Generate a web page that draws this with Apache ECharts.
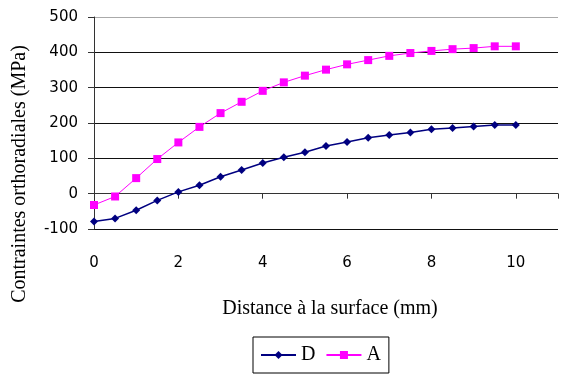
<!DOCTYPE html>
<html>
<head>
<meta charset="utf-8">
<script src="https://cdn.jsdelivr.net/npm/echarts@6/dist/echarts.min.js"></script>
<style>html,body{margin:0;padding:0;background:#fff;}#c{width:561px;height:374px;}</style>
</head>
<body>
<div id="c"></div>
<script>
const distances = [0,0.5,1,1.5,2,2.5,3,3.5,4,4.5,5,5.5,6,6.5,7,7.5,8,8.5,9,9.5,10];
const seriesD = [-79,-70,-47,-19,5,24,48,67,87,103,117,135,146,158,166,173,182,186,190,194,194];
const seriesA = [-32,-8,44,98,145,189,228,260,291,315,334,351,366,378,390,398,404,409,412,417,417];
const yTicks = [-100,0,100,200,300,400,500];
const xTickStep = 2;
const yTitle = 'Contraintes orthoradiales (MPa)';
const xTitle = 'Distance à la surface (mm)';

const chart = echarts.init(document.getElementById('c'), null, {renderer:'canvas'});
const serif = '"Liberation Serif", "Times New Roman", serif';
const sans = '"DejaVu Sans", Verdana, sans-serif';
const pair = arr => distances.map((x,i)=>[x,arr[i]]);
chart.setOption({
  animation:false,
  backgroundColor:'#fff',
  grid:{left:94, top:17, width:469, height:212, containLabel:false},
  xAxis:{
    type:'value', min:0, max:11, interval:xTickStep,
    axisLine:{lineStyle:{color:'#333', width:1}},
    axisTick:{length:5, lineStyle:{color:'#333'}},
    splitLine:{show:false},
    axisLabel:{margin:27, fontFamily:sans, fontSize:15, color:'#000',
      formatter:v => (v % xTickStep === 0 ? String(v) : '')}
  },
  yAxis:{
    type:'value', min:yTicks[0], max:yTicks[yTicks.length-1], interval:100,
    axisLine:{show:true, lineStyle:{color:'#333', width:1}},
    axisTick:{show:true, length:6, lineStyle:{color:'#333'}},
    splitLine:{show:true, lineStyle:{color:['#111','#111','#111','#111','#111','#111','#aaa'], width:1}},
    axisLabel:{margin:16, fontFamily:sans, fontSize:15, color:'#000'}
  },
  legend:{
    left:253, top:337, orient:'horizontal',
    data:['D','A'],
    itemWidth:35, itemHeight:10, itemGap:10,
    padding:[8,8,8,7],
    borderColor:'#000', borderWidth:1,
    textStyle:{fontFamily:serif, fontSize:20, color:'#000'}
  },
  graphic:[
    {type:'text', x:20, y:174, rotation:Math.PI/2,
     style:{text:yTitle, font:'20px '+serif, fill:'#000', textAlign:'center', textVerticalAlign:'middle'}},
    {type:'text', x:330, y:309,
     style:{text:xTitle, font:'20px '+serif, fill:'#000', textAlign:'center', textVerticalAlign:'middle'}}
  ],
  series:[
    {name:'D', type:'line', data:pair(seriesD), symbol:'diamond', symbolSize:8,
     itemStyle:{color:'#000080'}, lineStyle:{color:'#000080', width:1.5}},
    {name:'A', type:'line', data:pair(seriesA), symbol:'rect', symbolSize:8,
     itemStyle:{color:'#ff00ff'}, lineStyle:{color:'#ff00ff', width:1}}
  ]
});
</script>
</body>
</html>
